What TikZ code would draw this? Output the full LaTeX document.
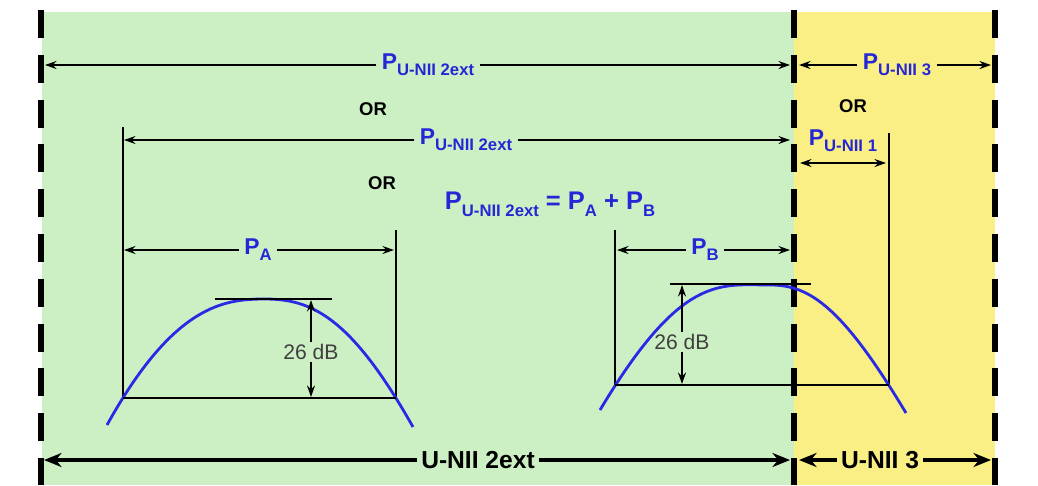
\documentclass[tikz,border=0pt]{standalone}
\usepackage{fontspec}
\setmainfont{Liberation Sans}
\usetikzlibrary{arrows.meta}
\definecolor{bandg}{HTML}{CCF0C4}
\definecolor{bandy}{HTML}{F9EF84}
\definecolor{plabc}{HTML}{2626D6}
\definecolor{curvec}{HTML}{2A2AE6}
\newcommand{\pw}[1]{P\raisebox{-0.5ex}{\fontsize{9.5}{10}\selectfont #1}}
\tikzset{
  ar/.style={-{Stealth[length=6.5pt,width=4.5pt]},line width=1.1pt},
  dar/.style={{Stealth[length=6.5pt,width=4.5pt]}-{Stealth[length=6.5pt,width=4.5pt]},line width=1.1pt},
  bigar/.style={-{Stealth[length=10pt,width=8pt]},line width=2.8pt},
  edge/.style={line width=3.4pt,dash pattern=on 15.9pt off 9.6pt},
  fine/.style={line width=0.7pt},
  curve/.style={curvec,line width=1.6pt},
  plbl/.style={text=plabc,font=\bfseries\fontsize{13}{15}\selectfont,inner sep=3pt},
  orlbl/.style={font=\bfseries\fontsize{10.5}{12}\selectfont,inner sep=1pt},
  bandlbl/.style={font=\bfseries\fontsize{14}{16}\selectfont,inner sep=2pt},
  dblbl/.style={text=black!75,font=\fontsize{12}{14}\selectfont,inner sep=1pt}
}
\begin{document}
\begin{tikzpicture}[x=0.02cm,y=-0.02cm]
\useasboundingbox (0,0) rectangle (1038,485);
% bands
\fill[bandg] (42,12) rectangle (794,485);
\fill[bandy] (794,12) rectangle (995,485);
\draw[edge] (41,10) -- (41,485);
\draw[edge] (794,10) -- (794,485);
\draw[edge] (995,10) -- (995,485);

% top row
\node[plbl] (t2ext) at (428,65) {\pw{U-NII 2ext}};
\coordinate (tl) at (45,65);
\coordinate (tm) at (790,65);
\draw[ar] (t2ext) -- (tl);
\draw[ar] (t2ext) -- (tm);
\node[plbl] (t3) at (897,65) {\pw{U-NII 3}};
\coordinate (tm3) at (799,65);
\coordinate (tr) at (991,65);
\draw[ar] (t3) -- (tm3);
\draw[ar] (t3) -- (tr);
\node[orlbl] (or1) at (373,109) {OR};
\node[orlbl] (or3) at (853,106) {OR};

% second row
\node[plbl] (m2ext) at (466,140) {\pw{U-NII 2ext}};
\coordinate (ml) at (124,140);
\coordinate (mm) at (790,140);
\draw[ar] (m2ext) -- (ml);
\draw[ar] (m2ext) -- (mm);
\node[plbl] (m1) at (843,141) {\pw{U-NII 1}};
\coordinate (n1l) at (800,163);
\coordinate (n1r) at (886,163);
\draw[dar] (n1l) -- (n1r);
\node[orlbl] (or2) at (382,183) {OR};
\node[plbl,font=\bfseries\fontsize{14.5}{17}\selectfont] (sum) at (550,204) {\pw{U-NII 2ext} = \pw{A} + \pw{B}};

% emission A
\draw[fine] (123,127) -- (123,398);
\draw[fine] (396,230) -- (396,398);
\node[plbl] (pa) at (258,250) {\pw{A}};
\coordinate (pal) at (124,250);
\coordinate (par) at (394,250);
\draw[ar] (pa) -- (pal);
\draw[ar] (pa) -- (par);
\draw[curve] (107,425) .. controls (174,304) and (225,299) .. (265,299)
  .. controls (310,299) and (350,315) .. (413,427);
\draw[line width=1.2pt] (215,299) -- (332,299);
\draw[line width=1.2pt] (123,398) -- (396,398);
\node[dblbl] (da) at (311,352) {26 dB};
\coordinate (dat) at (311,300);
\coordinate (dab) at (311,397);
\draw[ar] (da) -- (dat);
\draw[ar] (da) -- (dab);

% emission B
\draw[fine] (615,230) -- (615,385);
\draw[fine] (889,133) -- (889,385);
\node[plbl] (pb) at (705,250) {\pw{B}};
\coordinate (pbl) at (617,250);
\coordinate (pbr) at (790,250);
\draw[ar] (pb) -- (pbl);
\draw[ar] (pb) -- (pbr);
\draw[curve] (600,410) .. controls (682,273) and (720,285) .. (771,285)
  .. controls (810,285) and (843,308) .. (906,413);
\draw[line width=1.2pt] (670,284) -- (811,284);
\draw[line width=1.2pt] (615,385) -- (889,385);
\node[dblbl] (db) at (682,342) {26 dB};
\coordinate (dbt) at (682,285);
\coordinate (dbb) at (682,384);
\draw[ar] (db) -- (dbt);
\draw[ar] (db) -- (dbb);

% bands at bottom
\node[bandlbl] (b2ext) at (478,460) {U-NII 2ext};
\coordinate (bl) at (44,460);
\coordinate (bm) at (790,460);
\draw[bigar] (b2ext) -- (bl);
\draw[bigar] (b2ext) -- (bm);
\node[bandlbl] (b3) at (880,460) {U-NII 3};
\coordinate (bm3) at (799,460);
\coordinate (br) at (991,460);
\draw[bigar] (b3) -- (bm3);
\draw[bigar] (b3) -- (br);
\end{tikzpicture}
\end{document}
